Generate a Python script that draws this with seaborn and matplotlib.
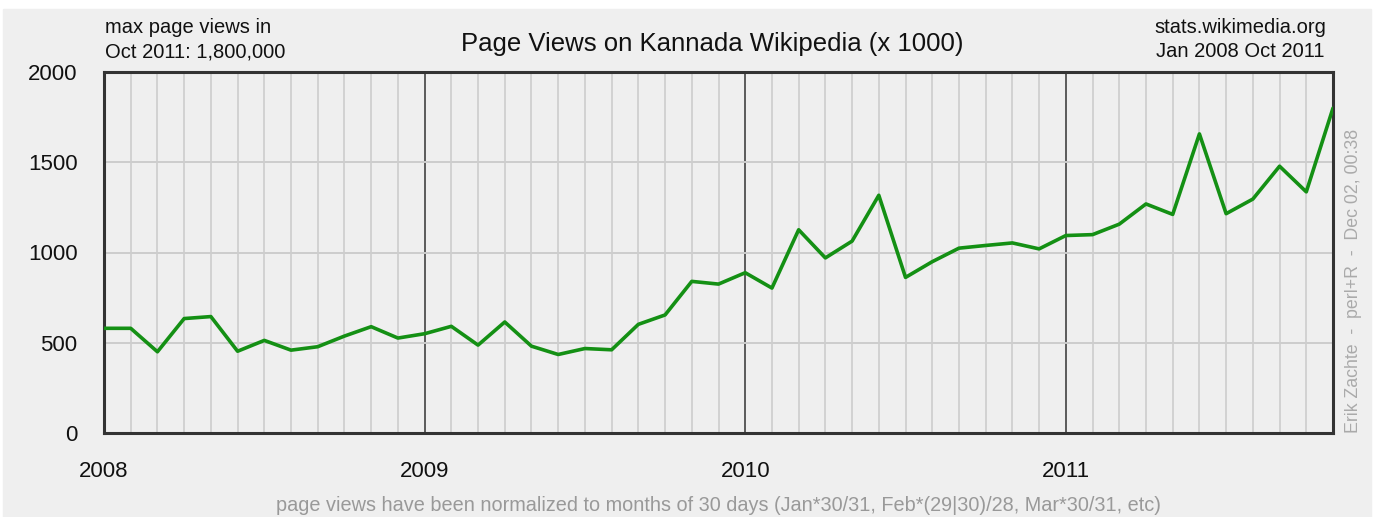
"""
Page views on Kannada Wikipedia, Jan 2008 - Oct 2011 (wikistats style chart).
"""

import numpy as np
import pandas as pd
import matplotlib
matplotlib.use('Agg')
import matplotlib.pyplot as plt
from matplotlib.patches import Rectangle
from matplotlib import font_manager
import seaborn as sns

# monthly page views in thousands, one value per month gridline
# (Jan 2008 value repeated at the left edge, like the original chart)
page_views = [580, 580, 450, 634, 645, 453, 513, 459, 478, 537, 589, 526,
              550, 591, 487, 615, 481, 435, 468, 461, 602, 654, 840, 825,
              888, 803, 1126, 970, 1063, 1317, 862, 949, 1024, 1039, 1053, 1020,
              1094, 1099, 1157, 1269, 1211, 1657, 1215, 1296, 1478, 1336, 1800]
year_labels = ['2008', '2009', '2010', '2011']
year_months = [0, 12, 24, 36]
y_ticks = [0, 500, 1000, 1500, 2000]

title = 'Page Views on Kannada Wikipedia (x 1000)'
left_note = ['max page views in', 'Oct 2011: 1,800,000']
right_note = ['stats.wikimedia.org', 'Jan 2008 Oct 2011']
side_note = 'Erik Zachte  -  perl+R  -  Dec 02, 00:38'
foot_note = ('page views have been normalized to months of 30 days '
             '(Jan*30/31, Feb*(29|30)/28, Mar*30/31, etc)')

df = pd.DataFrame({'month': np.arange(len(page_views)), 'views': page_views})

sns.set_theme(style='white')
plt.rcParams['font.family'] = ['Liberation Sans', 'DejaVu Sans']
installed = {f.name for f in font_manager.fontManager.ttflist}
narrow = 'Liberation Sans Narrow' if 'Liberation Sans Narrow' in installed else 'Liberation Sans'

W, H = 1378, 517
BG = '#efefef'
DARK = '#333333'


def fx(x):
    return x / W


def fy(y):
    return 1 - y / H


fig = plt.figure(figsize=(W / 100, H / 100), dpi=100, facecolor='white')
fig.patches.append(Rectangle((fx(3), 0), (1371 - 3) / W, (517 - 9) / H,
                             transform=fig.transFigure, color=BG, zorder=-10))

ax = fig.add_axes([fx(104), fy(433), (1333 - 104) / W, (433 - 72) / H])
ax.set_facecolor(BG)

sns.lineplot(data=df, x='month', y='views', ax=ax, color='#149014',
             linewidth=2.6, zorder=5)

ax.set_xlim(0, len(page_views) - 1)
ax.set_ylim(0, 2000)
ax.set_xticks(year_months, year_labels)
ax.set_xticks(df['month'], minor=True)
ax.set_yticks(y_ticks)
ax.grid(which='minor', axis='x', color='#cdcdcd', linewidth=1.2)
ax.grid(which='major', axis='x', color=DARK, linewidth=1.1)
ax.grid(which='major', axis='y', color='#cdcdcd', linewidth=1.4)
ax.set_axisbelow(True)
ax.set_xlabel('')
ax.set_ylabel('')

ax.tick_params(axis='x', which='major', length=5, width=1.2, color=DARK,
               pad=15, labelsize=16, labelcolor='#111111')
ax.tick_params(axis='x', which='minor', length=0)
ax.tick_params(axis='y', length=0, pad=19, labelsize=16, labelcolor='#111111')
for s in ax.spines.values():
    s.set_visible(True)
    s.set_color(DARK)
    s.set_linewidth(2.2)

# header texts
fig.text(fx(712), fy(51), title, ha='center', va='baseline', fontsize=18.5, color='#111111')
fig.text(fx(105), fy(33), left_note[0], ha='left', va='baseline', fontsize=14.5, color='#111111')
fig.text(fx(105), fy(57), left_note[1], ha='left', va='baseline', fontsize=14.5, color='#111111')
fig.text(fx(1240), fy(33), right_note[0], ha='center', va='baseline', fontsize=14.5, color='#111111')
fig.text(fx(1240), fy(57), right_note[1], ha='center', va='baseline', fontsize=14.5, color='#111111')

# credits on the right side and footnote
fig.text(fx(1353), fy(433), side_note, rotation=90, ha='center', va='bottom',
         fontsize=12.8, color='#aaaaaa')
fig.text(fx(719), fy(511), foot_note, ha='center', va='baseline',
         fontsize=14.3, color='#999999', family=[narrow, 'DejaVu Sans'])

fig.savefig('out.png', dpi=100, facecolor=fig.get_facecolor())
